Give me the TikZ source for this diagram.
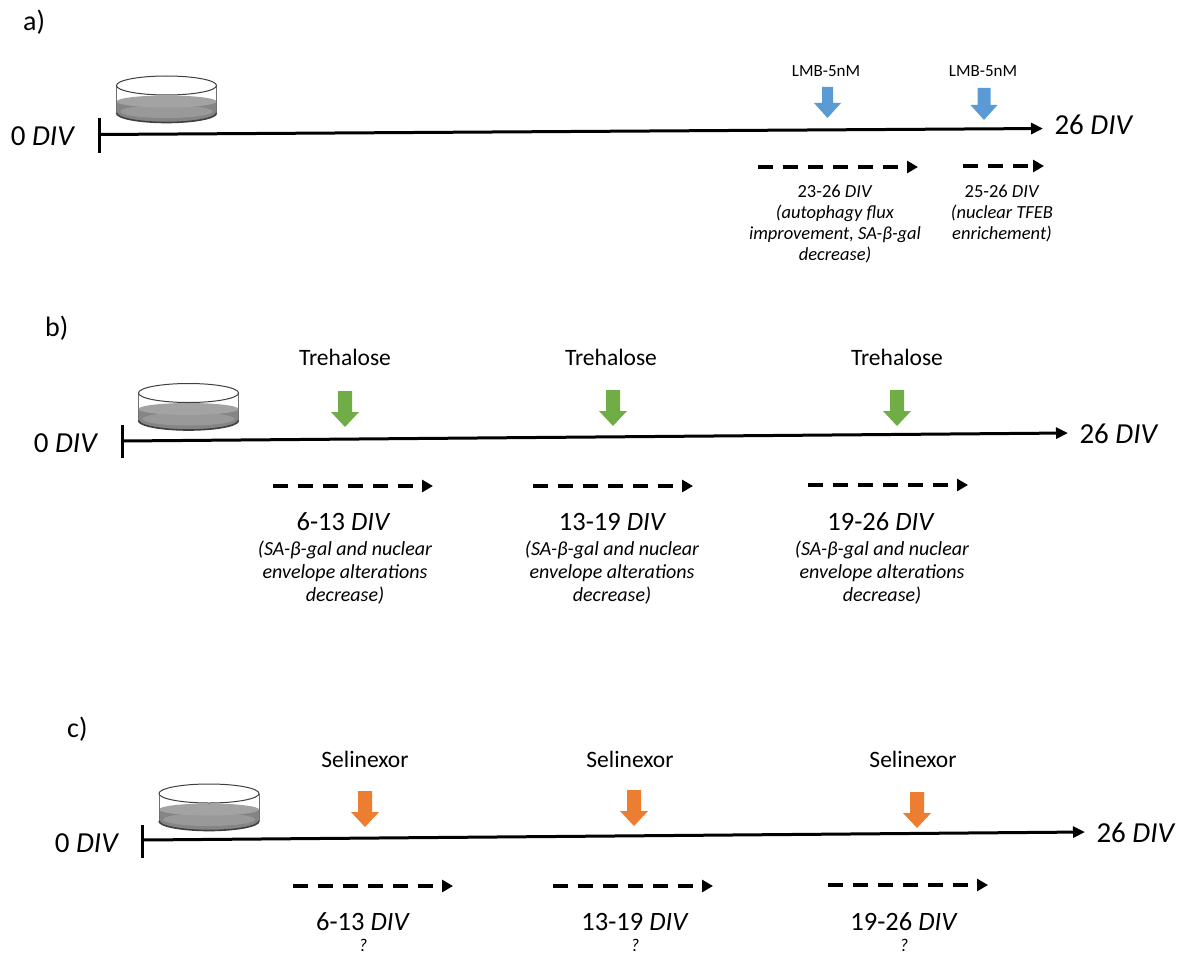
\documentclass[tikz,border=0pt]{standalone}
\usepackage{fontspec}
\setmainfont{Carlito}
\usetikzlibrary{arrows.meta}

\definecolor{lmbblue}{HTML}{5B9BD5}
\definecolor{trehgreen}{HTML}{70AD47}
\definecolor{selorange}{HTML}{ED7D31}
\definecolor{dishedge}{HTML}{404040}
\definecolor{glassside}{HTML}{707070}
\definecolor{liquiddark}{HTML}{858585}
\definecolor{liquidlight}{HTML}{A3A3A3}
\definecolor{liquidbottom}{HTML}{999999}

\newcommand\fsz[2]{\fontsize{#1}{#2}\selectfont}
\newcommand\linestack[1]{\begin{tabular}[t]{@{}c@{}}#1\end{tabular}}

\tikzset{
  timeline/.style={line width=3pt, -{Triangle[length=12pt,width=11pt]}},
  tickbar/.style={line width=3pt},
  period/.style={line width=3.5pt, dash pattern=on 15pt off 10pt,
                 -{Triangle[length=11pt,width=12pt]}},
  panellabel/.style={font=\fsz{28}{34}, anchor=base west, inner sep=0pt},
  divlabel/.style={font=\fsz{29}{34}, anchor=base, inner sep=0pt},
  druglabel/.style={font=\fsz{23.5}{28}, anchor=base, inner sep=0pt},
  lmblabel/.style={font=\fsz{17}{20}, anchor=base, inner sep=0pt},
  smalltxt/.style={font=\fsz{18.5}{21}, anchor=base, inner sep=0pt},
  rangetxt/.style={font=\fsz{26.5}{30}, anchor=base, inner sep=0pt},
  effecttxt/.style={font=\fsz{20}{23}\itshape, anchor=base, inner sep=0pt},
  qtxt/.style={font=\fsz{18}{20}\itshape, anchor=base, inner sep=0pt},
  % block arrow pointing down, placed at its tip: colour / height / shaft half width / head half width
  pics/drop/.style n args={4}{code={
    \fill[#1] (0,0) -- (-#4,-15) -- (-#3,-15) -- (-#3,-#2) -- (#3,-#2)
      -- (#3,-15) -- (#4,-15) -- cycle;
  }},
  % culture dish, placed at the centre of its top rim
  pics/dish/.style={code={
    \fill[liquiddark] (-50,16) -- (-50,27.5)
      arc[start angle=180, end angle=0, x radius=50, y radius=9.5] -- (50,16) -- cycle;
    \fill[liquidbottom] (0,26) ellipse [x radius=46, y radius=6.5];
    \fill[liquidlight] (0,16) ellipse [x radius=50, y radius=6];
    \draw[glassside, line width=0.8pt] (-50,0) -- (-50,27.5) (50,0) -- (50,27.5);
    \draw[dishedge, line width=1.6pt] (-50,27.5)
      arc[start angle=180, end angle=0, x radius=50, y radius=9.5];
    \filldraw[fill=white, draw=dishedge, line width=1pt] (0,0) ellipse [x radius=50, y radius=9.5];
  }}
}

\begin{document}
\begin{tikzpicture}[x=1pt, y=-1pt]
\useasboundingbox (0,0) rectangle (1190,955);
\fill[white] (0,0) rectangle (1190,955);

% ---------------- a) LMB ----------------
\node[panellabel] (pa) at (23,31) {a)};
\node[divlabel] (a0lab) at (43,145) {0 \textit{DIV}};
\coordinate (atickt) at (99,118);
\coordinate (atickb) at (99,153);
\draw[tickbar] (atickt) -- (atickb);
\coordinate (astart) at (99,134.5);
\coordinate (aend) at (1043,128.5);
\draw[timeline] (astart) -- (aend);
\node[divlabel] (a26lab) at (1094,135) {26 \textit{DIV}};
\pic at (166.5,85.5) {dish};

\node[lmblabel] (lmb1) at (826,77) {LMB-5nM};
\node[lmblabel] (lmb2) at (983,77) {LMB-5nM};
\pic at (827.5,118) {drop={lmbblue}{31}{5.5}{13.5}};
\pic at (984,120) {drop={lmbblue}{32}{6.5}{13.5}};

\coordinate (ap1s) at (758,167);
\coordinate (ap1e) at (918,167);
\draw[period] (ap1s) -- (ap1e);
\coordinate (ap2s) at (963,166);
\coordinate (ap2e) at (1044,166);
\draw[period] (ap2s) -- (ap2e);

\node[smalltxt] (at1) at (835,197) {\linestack{23-26 \textit{DIV}\\
  \textit{(autophagy flux}\\ \textit{improvement, SA-β-gal}\\ \textit{decrease)}}};
\node[smalltxt] (at2) at (1002,197) {\linestack{25-26 \textit{DIV}\\
  \textit{(nuclear TFEB}\\ \textit{enrichement)}}};

% ---------------- b) Trehalose ----------------
\node[panellabel] (pb) at (45,336) {b)};
\node[divlabel] (b0lab) at (66,452) {0 \textit{DIV}};
\coordinate (btickt) at (122,425);
\coordinate (btickb) at (122,458);
\draw[tickbar] (btickt) -- (btickb);
\coordinate (bstart) at (122,441);
\coordinate (bend) at (1068,433);
\draw[timeline] (bstart) -- (bend);
\node[divlabel] (b26lab) at (1119,443) {26 \textit{DIV}};
\pic at (188.5,393) {dish};

\node[druglabel] (tr1) at (345,365) {Trehalose};
\node[druglabel] (tr2) at (611,365) {Trehalose};
\node[druglabel] (tr3) at (897,365) {Trehalose};
\pic at (345,427) {drop={trehgreen}{36}{7}{14}};
\pic at (613,426) {drop={trehgreen}{36}{7}{14}};
\pic at (897,426) {drop={trehgreen}{36}{7}{14}};

\coordinate (bp1s) at (273,486);
\coordinate (bp1e) at (433,486);
\draw[period] (bp1s) -- (bp1e);
\coordinate (bp2s) at (533,486);
\coordinate (bp2e) at (693,486);
\draw[period] (bp2s) -- (bp2e);
\coordinate (bp3s) at (808,485);
\coordinate (bp3e) at (968,485);
\draw[period] (bp3s) -- (bp3e);

\node[rangetxt] (br1) at (343.5,530) {6-13 \textit{DIV}};
\node[rangetxt] (br2) at (612.5,530) {13-19 \textit{DIV}};
\node[rangetxt] (br3) at (881,530) {19-26 \textit{DIV}};
\node[effecttxt] (be1) at (345,555) {\linestack{(SA-β-gal and nuclear\\
  envelope alterations\\ decrease)}};
\node[effecttxt] (be2) at (612,555) {\linestack{(SA-β-gal and nuclear\\
  envelope alterations\\ decrease)}};
\node[effecttxt] (be3) at (882,555) {\linestack{(SA-β-gal and nuclear\\
  envelope alterations\\ decrease)}};

% ---------------- c) Selinexor ----------------
\node[panellabel] (pc) at (67,737) {c)};
\node[divlabel] (c0lab) at (87,852) {0 \textit{DIV}};
\coordinate (ctickt) at (142,825);
\coordinate (ctickb) at (142,858);
\draw[tickbar] (ctickt) -- (ctickb);
\coordinate (cstart) at (142,840);
\coordinate (cend) at (1085,832);
\draw[timeline] (cstart) -- (cend);
\node[divlabel] (c26lab) at (1136,842) {26 \textit{DIV}};
\pic at (209,793.5) {dish};

\node[druglabel] (se1) at (365,767) {Selinexor};
\node[druglabel] (se2) at (630,767) {Selinexor};
\node[druglabel] (se3) at (913,767) {Selinexor};
\pic at (365,827) {drop={selorange}{36}{7}{14}};
\pic at (634,826) {drop={selorange}{36}{7}{14}};
\pic at (917,828) {drop={selorange}{36}{7}{14}};

\coordinate (cp1s) at (293,886);
\coordinate (cp1e) at (453,886);
\draw[period] (cp1s) -- (cp1e);
\coordinate (cp2s) at (553,886);
\coordinate (cp2e) at (713,886);
\draw[period] (cp2s) -- (cp2e);
\coordinate (cp3s) at (828,885);
\coordinate (cp3e) at (988,885);
\draw[period] (cp3s) -- (cp3e);

\node[rangetxt] (cr1) at (363,930) {6-13 \textit{DIV}};
\node[rangetxt] (cr2) at (635,930) {13-19 \textit{DIV}};
\node[rangetxt] (cr3) at (904,930) {19-26 \textit{DIV}};
\node[qtxt] (cq1) at (363,951) {?};
\node[qtxt] (cq2) at (635,951) {?};
\node[qtxt] (cq3) at (904,951) {?};
\end{tikzpicture}
\end{document}
